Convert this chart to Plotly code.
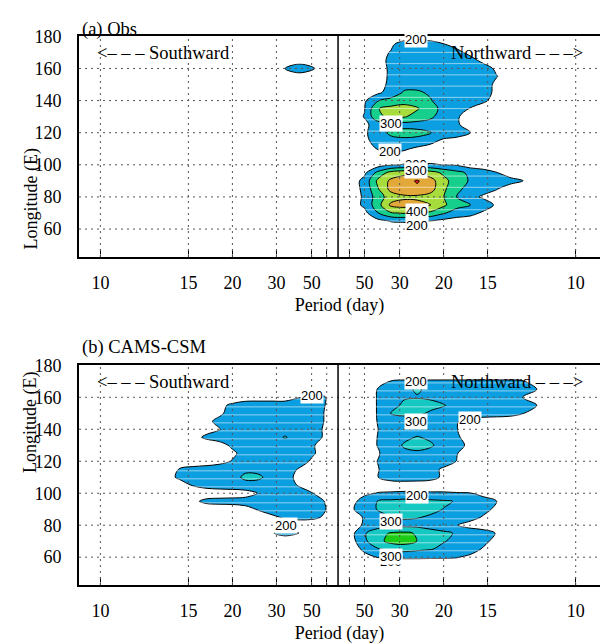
import plotly.graph_objects as go

# ---------------- data ----------------
# Longitude rows (deg E) of the gridded spectrum
LON = [50, 55, 60, 65, 70, 75, 80, 85, 90, 95, 100, 105, 110, 115, 120, 125,
       130, 135, 140, 145, 150, 155, 160, 165, 170, 175, 180]
# Frequency offset columns (cycles/day beyond the 1/100 cpd centre; negative = southward)
FREQ = [-0.070, -0.065, -0.060, -0.055, -0.050, -0.045, -0.040, -0.035, -0.030,
        -0.025, -0.020, -0.015, -0.010, -0.005, 0.000, 0.005, 0.010, 0.015,
        0.020, 0.025, 0.030, 0.035, 0.040, 0.045, 0.050, 0.055, 0.060, 0.065,
        0.070, 0.075, 0.080, 0.085]
BACKGROUND = 150

# Power: {lon: [(first column, values...), ...]}
OBS_ROWS = {
    175: [(18, [185, 240, 250, 240, 205, 160])],
    170: [(17, [170, 205, 250, 260, 260, 250, 230, 170])],
    165: [(17, [175, 215, 260, 265, 265, 265, 260, 240, 170])],
    160: [(10, [205, 260, 215]),
          (17, [175, 210, 265, 270, 270, 270, 265, 265, 250, 180])],
    155: [(17, [170, 212, 260, 270, 270, 270, 265, 265, 260, 205, 150])],
    150: [(17, [175, 215, 270, 275, 275, 270, 265, 260, 255, 175])],
    145: [(17, [180, 240, 310, 310, 290, 270, 265, 260, 245, 175])],
    140: [(16, [185, 295, 330, 360, 350, 305, 260, 260, 260, 220, 160])],
    135: [(16, [195, 395, 430, 440, 410, 340, 270, 240, 195, 150])],
    130: [(16, [205, 380, 420, 410, 360, 320, 250, 210, 160])],
    125: [(16, [180, 240, 255, 260, 260, 255, 250, 215])],
    120: [(16, [185, 250, 320, 340, 330, 305, 260, 250, 205, 160])],
    115: [(16, [175, 240, 270, 275, 270, 230, 180, 160])],
    110: [(16, [160, 205, 230, 215, 180, 160])],
    100: [(18, [190, 205, 210, 210, 198, 190])],
    95: [(16, [180, 330, 440, 470, 480, 450, 380, 330, 280, 240, 205, 160])],
    90: [(16, [230, 420, 520, 560, 610, 540, 430, 350, 290, 270, 250, 230, 203, 150])],
    85: [(16, [225, 390, 530, 570, 580, 540, 420, 320, 270, 240, 205, 160])],
    80: [(16, [215, 350, 450, 480, 480, 460, 402, 298, 230, 185, 160])],
    75: [(16, [220, 360, 520, 540, 530, 502, 420, 330, 302, 250, 185])],
    70: [(16, [170, 295, 390, 410, 398, 380, 310, 260, 230, 185])],
    65: [(17, [170, 205, 210, 210, 198, 170])],
}

MODEL_ROWS = {
    170: [(17, [165, 203, 210, 210, 210, 210, 210, 210, 210, 210, 210, 205, 160])],
    165: [(17, [203, 240, 280, 310, 280, 260, 260, 260, 260, 255, 250, 240, 205, 150])],
    160: [(11, [195, 210, 205]),
          (17, [205, 250, 290, 295, 290, 270, 265, 260, 255, 250, 230, 198, 170])],
    155: [(5, [180, 215, 250, 255, 255, 255, 260, 250, 201]),
          (17, [205, 260, 320, 330, 320, 305, 270, 260, 255, 250, 240, 230, 205, 150])],
    150: [(4, [160, 185, 230, 260, 265, 265, 265, 265, 260, 195]),
          (17, [205, 305, 320, 315, 290, 270, 265, 260, 250, 240, 230, 203, 160])],
    145: [(3, [160, 180, 220, 250, 260, 265, 265, 270, 265, 260, 195]),
          (17, [203, 250, 260, 260, 255, 250, 205, 170])],
    140: [(4, [170, 195, 240, 255, 265, 270, 270, 265, 255, 185]),
          (17, [198, 245, 260, 265, 260, 250, 202, 160])],
    135: [(3, [170, 215, 235, 245, 255, 265, 275, 305, 270, 255, 185]),
          (17, [202, 245, 280, 305, 285, 260, 210, 170])],
    130: [(5, [170, 215, 245, 260, 270, 270, 265, 210, 170]),
          (17, [203, 250, 310, 330, 312, 265, 235, 175])],
    125: [(6, [185, 230, 255, 265, 265, 255, 212, 170]),
          (17, [190, 250, 280, 285, 270, 255, 203, 160])],
    120: [(5, [170, 205, 245, 265, 270, 265, 240, 190, 160]),
          (17, [202, 245, 255, 260, 255, 245, 197, 160])],
    115: [(1, [160, 205, 225, 240, 250, 260, 280, 275, 270, 240, 195, 160]),
          (17, [195, 240, 250, 250, 230, 185])],
    110: [(1, [170, 215, 240, 250, 255, 265, 320, 315, 265, 230, 180]),
          (17, [198, 240, 250, 245, 230, 185])],
    105: [(2, [160, 205, 230, 245, 255, 265, 265, 260, 235, 195, 160])],
    100: [(7, [160, 205, 240, 250, 235, 205, 160]),
          (16, [175, 205, 210, 215, 215, 210, 210, 205, 203, 170])],
    95: [(3, [180, 220, 230, 235, 240, 250, 255, 260, 255, 245, 198]),
         (15, [160, 250, 302, 320, 330, 330, 320, 310, 295, 270, 240, 203, 150])],
    90: [(7, [170, 210, 245, 255, 255, 250, 205]),
         (15, [185, 255, 305, 330, 340, 335, 320, 298, 280, 260, 230, 180])],
    85: [(9, [180, 215, 225, 220, 190]),
         (16, [210, 270, 298, 310, 305, 290, 275, 260, 240, 190])],
    80: [(16, [215, 255, 265, 270, 270, 260, 240, 203, 160])],
    75: [(9, [195, 225, 205]),
         (15, [170, 290, 360, 410, 420, 390, 340, 320, 290, 270, 240, 195])],
    70: [(15, [160, 280, 370, 430, 440, 398, 330, 305, 280, 260, 225, 170])],
    65: [(16, [220, 290, 320, 340, 320, 305, 280, 260, 240, 190])],
    60: [(16, [170, 203, 210, 212, 212, 210, 210, 205, 180])],
}

PERIOD_TICKS = [10, 15, 20, 30, 50, 70]
PERIOD_LABELS = ["10", "15", "20", "30", "50", ""]
CENTRE_FREQ = 0.01
LON_TICKS = [60, 80, 100, 120, 140, 160, 180]
GRID_LON = [60, 80, 100, 120, 140, 160]

# contour labels: (text, freq offset, lon)
OBS_LABELS = [("200", 0.0295, 178.3), ("300", 0.0201, 126.0), ("200", 0.0197, 108.0),
              ("200", 0.0295, 100.2), ("300", 0.0295, 96.3), ("400", 0.0299, 70.8),
              ("200", 0.0299, 62.4)]
MODEL_LABELS = [("200", 0.0295, 169.6), ("300", 0.0295, 144.6), ("200", 0.0500, 146.4),
                ("200", 0.0299, 98.3), ("300", 0.0201, 82.6), ("200", 0.0201, 57.0),
                ("300", 0.0201, 60.7), ("200", -0.0098, 161.4), ("200", -0.0197, 80.1)]

# ---------------- styles ----------------
SERIF = "Liberation Serif"
SANS = "Liberation Sans"
T = "rgba(255,255,255,0)"
BLUE = "#0b9ee0"
# colours of the bands: below 200, 200-300, 300-400, ...
OBS_COLORS = [T, BLUE, "#16cf8c", "#a6dd3c", "#e2a83a", "#ee1a12"]
MODEL_COLORS = [T, BLUE, "#16c8c2", "#1ccc14"]


def build(rows):
    z = []
    for lon in LON:
        row = [BACKGROUND] * len(FREQ)
        for start, vals in rows.get(lon, []):
            row[start:start + len(vals)] = vals
        z.append(row)
    return z


def band_scale(colors):
    # plotly samples band k of m at position k/(m-1): make each colour a flat step there
    m = len(colors)
    cs = []
    for k, c in enumerate(colors):
        lo = max(0.0, (k - 0.5) / (m - 1))
        hi = min(1.0, (k + 0.5) / (m - 1))
        cs.append([lo, c])
        cs.append([hi, c])
    return cs


def pos(period, side):
    return side * (1.0 / period - CENTRE_FREQ)


tickvals, ticktext = [], []
for side in (-1, 1):
    for p, lab in zip(PERIOD_TICKS, PERIOD_LABELS):
        tickvals.append(pos(p, side))
        ticktext.append(lab)

fig = go.Figure()
for rows, colors, xa, ya in ((OBS_ROWS, OBS_COLORS, "x", "y"),
                             (MODEL_ROWS, MODEL_COLORS, "x2", "y2")):
    n = len(colors)
    fig.add_trace(go.Contour(
        x=FREQ, y=LON, z=build(rows), xaxis=xa, yaxis=ya,
        contours=dict(start=200, end=100 * n, size=100, coloring="fill",
                      showlines=True),
        line=dict(color="black", width=1, smoothing=1.0),
        colorscale=band_scale(colors),
        showscale=False, hoverinfo="skip"))

W, H = 600, 644
XDOM = [79 / W, 1.0]
YDOM_A = [1 - 257 / H, 1 - 36 / H]
YDOM_B = [1 - 585 / H, 1 - 365 / H]
XR = [-0.0981, 0.0992]
YR = [42.6, 180.2]

xax = dict(domain=XDOM, range=XR, showgrid=False, zeroline=False, showline=True,
           linecolor="black", linewidth=2, mirror=True, ticks="inside", ticklen=8,
           tickwidth=1.2, tickcolor="black", tickvals=tickvals, ticktext=ticktext,
           tickfont=dict(family=SERIF, size=18, color="black"), ticklabelstandoff=8,
           title=dict(text="Period (day)", standoff=7,
                      font=dict(family=SERIF, size=18, color="black")),
           automargin=False, fixedrange=True)
yax = dict(range=YR, showgrid=False, zeroline=False, showline=True, linecolor="black",
           linewidth=2, ticks="", tickvals=LON_TICKS,
           tickfont=dict(family=SERIF, size=18, color="black"), ticklabelstandoff=12,
           automargin=False, fixedrange=True)

fig.update_layout(
    template="none",
    width=W, height=H, margin=dict(l=0, r=0, t=0, b=0, pad=0, autoexpand=False),
    paper_bgcolor="white", plot_bgcolor="white", showlegend=False,
    xaxis=dict(xax, anchor="y"), yaxis=dict(yax, domain=YDOM_A, anchor="x"),
    xaxis2=dict(xax, anchor="y2"), yaxis2=dict(yax, domain=YDOM_B, anchor="x2"),
)

shapes = []
grid_line = dict(color="#555555", width=1, dash="2px,4px")
for xa, ya, step in (("x", "y", 7.0), ("x2", "y2", 5.0)):
    # faint light streaks across filled areas
    v = 44.0
    while v < 180:
        shapes.append(dict(type="line", xref=f"{xa} domain", yref=ya, x0=0, x1=1,
                           y0=v, y1=v, layer="above",
                           line=dict(color="rgba(255,255,255,0.55)", width=1)))
        v += step
    for tv in tickvals:
        shapes.append(dict(type="line", xref=xa, yref=f"{ya} domain", x0=tv, x1=tv,
                           y0=0, y1=1, layer="above", line=grid_line))
    for g in GRID_LON:
        shapes.append(dict(type="line", xref=f"{xa} domain", yref=ya, x0=0, x1=1,
                           y0=g, y1=g, layer="above", line=grid_line))
    shapes.append(dict(type="line", xref=xa, yref=f"{ya} domain", x0=0, x1=0,
                       y0=0, y1=1, layer="above", line=dict(color="black", width=1.5)))
fig.update_layout(shapes=shapes)

ann = []
for labels, xa, ya in ((OBS_LABELS, "x", "y"), (MODEL_LABELS, "x2", "y2")):
    for txt, u, lon in labels:
        ann.append(dict(x=u, y=lon, xref=xa, yref=ya, text=txt, showarrow=False,
                        bgcolor="white", borderpad=0,
                        font=dict(family=SANS, size=13, color="black")))
    ann.append(dict(x=-0.092, y=169.6, xref=xa, yref=ya, xanchor="left",
                    text="<\u2013 \u2013 \u2013 Southward", showarrow=False,
                    font=dict(family=SERIF, size=18.5, color="black")))
    ann.append(dict(x=0.0936, y=169.6, xref=xa, yref=ya, xanchor="right",
                    text="Northward \u2013 \u2013 \u2013>", showarrow=False,
                    font=dict(family=SERIF, size=18.5, color="black")))

for title, ytitle, ycentre in (("(a) Obs", 1 - 17 / H, sum(YDOM_A) / 2),
                               ("(b) CAMS-CSM", 1 - 347 / H, sum(YDOM_B) / 2)):
    ann.append(dict(x=80 / W, y=ytitle, xref="paper", yref="paper", xanchor="left",
                    text=title, showarrow=False,
                    font=dict(family=SERIF, size=18.5, color="black")))
    ann.append(dict(x=18 / W, y=ycentre, xref="paper", yref="paper", textangle=-90,
                    text="Longitude (E)", showarrow=False,
                    font=dict(family=SERIF, size=18, color="black")))
fig.update_layout(annotations=ann)

fig.write_html("out.html")
